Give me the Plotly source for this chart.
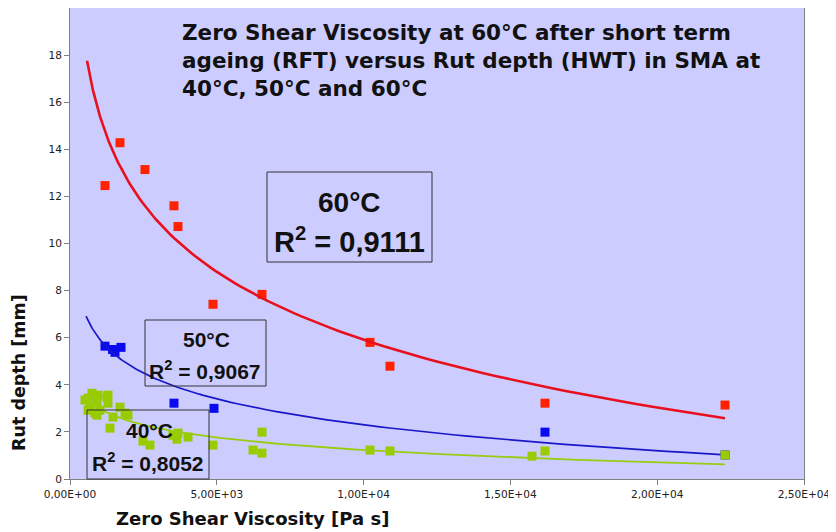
import numpy as np
import plotly.graph_objects as go

# Rut depth (HWT) vs zero shear viscosity
x_60 = [1192, 1703, 2554, 3542, 3678, 4870, 6540, 10218, 10899, 16178, 22310]
y_60 = [12.46, 14.28, 13.14, 11.6, 10.72, 7.42, 7.84, 5.8, 4.79, 3.22, 3.14]

x_50 = [1192, 1533, 1737, 1450, 3542, 4904, 16178, 22310]
y_50 = [5.64, 5.38, 5.59, 5.5, 3.22, 3.0, 1.99, 1.02]

x_40 = [511, 613, 749, 920, 954, 1260, 1294, 1294, 613, 681, 920, 1022, 852, 920,
        1465, 1703, 1873, 1975, 1362, 2486, 2725, 3508, 3678, 3644, 4019, 4870,
        6540, 6233, 6540, 10218, 10899, 15736, 16178, 22310]
y_40 = [3.35, 3.43, 3.64, 3.43, 3.56, 3.47, 3.56, 3.22, 2.92, 3.05, 3.22, 2.92, 2.8, 2.71,
        2.63, 3.05, 2.8, 2.71, 2.16, 1.61, 1.44, 1.86, 1.95, 1.69, 1.78, 1.44,
        1.99, 1.23, 1.1, 1.23, 1.19, 0.97, 1.19, 1.02]

# x extent of the Excel log trendlines
trend_60 = [580, 22310]
trend_50 = [545, 22310]
trend_40 = [511, 22310]

r2_60 = "0,9111"
r2_50 = "0,9067"
r2_40 = "0,8052"

x_ticks = [0, 5000, 10000, 15000, 20000, 25000]
x_tick_text = ["0,00E+00", "5,00E+03", "1,00E+04", "1,50E+04", "2,00E+04", "2,50E+04"]
y_ticks = [0, 2, 4, 6, 8, 10, 12, 14, 16, 18]
y_tick_text = ["0", "2", "4", "6", "8", "10", "12", "14", "16", "18"]

# page body has an 8px margin, so the figure is a bit smaller than the window
OFF = 8
W, H = 836 - OFF, 532 - OFF
L, R, T, B = 70 - OFF, 32, 0, 53


def px(xv):
    # window pixel -> paper x
    return (xv - OFF - L) / (W - L - R)


def py(yv):
    # window pixel -> paper y
    return (H - B - (yv - OFF)) / (H - T - B)


def trend(xs, ys, span):
    # logarithmic trendline y = a*ln(x) + b, same as Excel's
    a, b = np.polyfit(np.log(xs), ys, 1)
    xx = np.geomspace(span[0], span[1], 120)
    return xx, a * np.log(xx) + b


fig = go.Figure()

series = [
    (x_60, y_60, trend_60, "#FF2200", "#E8101E", 2.6),
    (x_50, y_50, trend_50, "#0A0AF0", "#1818C8", 1.7),
    (x_40, y_40, trend_40, "#99CC00", "#99CC10", 1.8),
]
for xs, ys, span, mcol, lcol, lw in series:
    tx, ty = trend(xs, ys, span)
    fig.add_trace(go.Scatter(x=xs, y=ys, mode="markers",
                             marker=dict(symbol="square", size=9, color=mcol)))
    fig.add_trace(go.Scatter(x=tx, y=ty, mode="lines",
                             line=dict(color=lcol, width=lw)))

tick_font = dict(family="DejaVu Sans", size=10.6, color="#222222")
fig.update_xaxes(range=[0, 25000], tickvals=x_ticks, ticktext=x_tick_text,
                 showline=True, linecolor="#808080", linewidth=1, mirror=True,
                 ticks="outside", ticklen=5, tickcolor="#808080",
                 showgrid=False, zeroline=False, tickfont=tick_font)
fig.update_yaxes(range=[0, 20], tickvals=y_ticks, ticktext=y_tick_text,
                 showline=True, linecolor="#808080", linewidth=1, mirror=True,
                 ticks="outside", ticklen=5, tickcolor="#808080",
                 showgrid=False, zeroline=False, tickfont=tick_font)

box_line = dict(color="#333333", width=1)
shapes = [
    dict(type="rect", xref="paper", yref="paper",
         x0=px(267), x1=px(432), y0=py(262), y1=py(172), line=box_line),
    dict(type="rect", xref="paper", yref="paper",
         x0=px(145), x1=px(266), y0=py(386), y1=py(320), line=box_line),
    dict(type="rect", xref="paper", yref="paper",
         x0=px(87), x1=px(209), y0=py(479), y1=py(410), line=box_line),
]

box_font = "Liberation Sans, Arial, sans-serif"
title = ("Zero Shear Viscosity at 60°C after short term<br>"
         "ageing (RFT) versus Rut depth (HWT) in SMA at<br>"
         "40°C, 50°C and 60°C")

anns = [
    dict(text="<b>" + title + "</b>", x=px(180), y=py(18), xanchor="left", yanchor="top",
         align="left", font=dict(family="DejaVu Sans", size=21.5, color="#111111")),
    dict(text="<b>60°C</b>", x=px(349), y=py(202),
         font=dict(family=box_font, size=28, color="#111111")),
    dict(text="<b>R<sup>2</sup> = " + r2_60 + "</b>", x=px(349), y=py(240),
         font=dict(family=box_font, size=29, color="#111111")),
    dict(text="<b>50°C</b>", x=px(206), y=py(339),
         font=dict(family=box_font, size=21, color="#111111")),
    dict(text="<b>R<sup>2</sup> = " + r2_50 + "</b>", x=px(205), y=py(370),
         font=dict(family=box_font, size=21, color="#111111")),
    dict(text="<b>40°C</b>", x=px(149), y=py(430),
         font=dict(family=box_font, size=21, color="#111111")),
    dict(text="<b>R<sup>2</sup> = " + r2_40 + "</b>", x=px(148), y=py(462),
         font=dict(family=box_font, size=21, color="#111111")),
    dict(text="<b>Zero Shear Viscosity [Pa s]</b>", x=px(252), y=py(518),
         font=dict(family="DejaVu Sans", size=18, color="#111111")),
    dict(text="<b>Rut depth [mm]</b>", x=px(19), y=py(373), textangle=-90,
         font=dict(family="DejaVu Sans", size=17.5, color="#111111")),
]
for a in anns:
    a.update(xref="paper", yref="paper", showarrow=False)
    a.setdefault("xanchor", "center")
    a.setdefault("yanchor", "middle")

fig.update_layout(
    width=W, height=H,
    margin=dict(l=L, r=R, t=T, b=B),
    plot_bgcolor="#CCCCFF",
    paper_bgcolor="white",
    showlegend=False,
    shapes=shapes,
    annotations=anns,
)

fig.write_html("out.html")
